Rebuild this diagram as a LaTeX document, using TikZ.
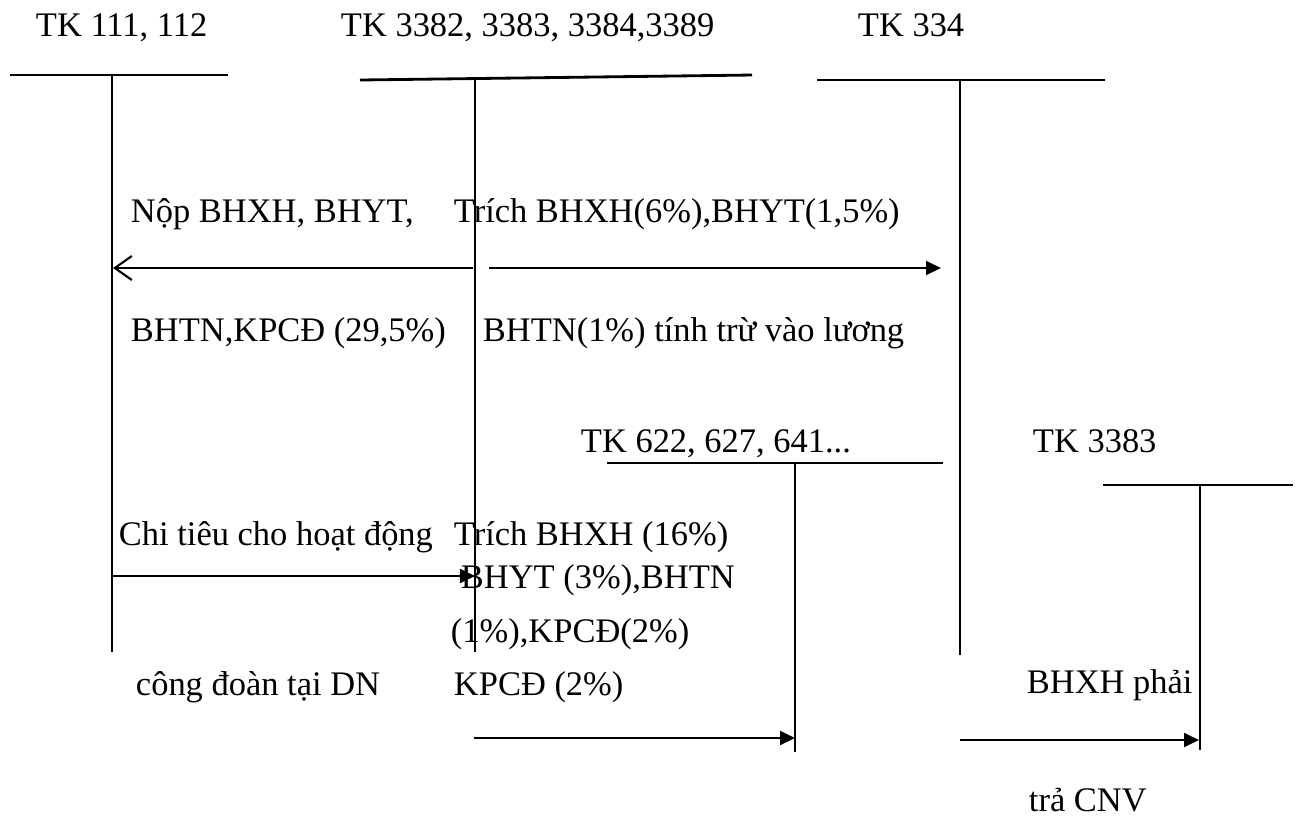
\documentclass[tikz,border=0pt]{standalone}
\usepackage{fontspec}
\setmainfont{Liberation Serif}
\usetikzlibrary{arrows.meta}

\begin{document}
\begin{tikzpicture}[x=0.01cm,y=-0.01cm,line width=0.55pt,
  font=\fontsize{9.8}{12}\selectfont,
  tline/.style={line width=0.8pt},
  lbl/.style={anchor=base west,inner sep=0pt},
  flow/.style={-{Triangle[length=0.15cm,width=0.14cm]}},
  back/.style={-{Straight Barb[length=0.17cm,width=0.24cm,line width=0.6pt]}}]
\useasboundingbox (0,0) rectangle (1300,820);
% accounts: top bar and middle stem
\coordinate (a1l) at (10,75);   \coordinate (a1r) at (228,75);
\coordinate (a1t) at (112,75);  \coordinate (a1b) at (112,652);
\coordinate (a2l) at (360,80);  \coordinate (a2r) at (752,75);
\coordinate (a2t) at (475,79);  \coordinate (a2b) at (475,652);
\coordinate (a3l) at (817,80);  \coordinate (a3r) at (1105,80);
\coordinate (a3t) at (960,80);  \coordinate (a3b) at (960,655);
\coordinate (a4l) at (607,463); \coordinate (a4r) at (943,463);
\coordinate (a4t) at (795,463); \coordinate (a4b) at (795,752);
\coordinate (a5l) at (1103,485);\coordinate (a5r) at (1293,485);
\coordinate (a5t) at (1200,485);\coordinate (a5b) at (1200,750);
\draw[tline] (a1l) -- (a1r);
\draw (a1t) -- (a1b);
\draw[tline] (a2l) -- (a2r);
\draw (a2t) -- (a2b);
\draw[tline] (a3l) -- (a3r);
\draw (a3t) -- (a3b);
\draw[tline] (a4l) -- (a4r);
\draw (a4t) -- (a4b);
\draw[tline] (a5l) -- (a5r);
\draw (a5t) -- (a5b);
% titles
\node[lbl] (t1) at (35,36) {TK 111, 112};
\node[lbl] (t2) at (340,36) {TK 3382, 3383, 3384,3389};
\node[lbl] (t3) at (857,36) {TK 334};
\node[lbl] (t4) at (580,452) {TK 622, 627, 641...};
\node[lbl] (t5) at (1032,452) {TK 3383};
% entries
\coordinate (p1) at (473,268); \coordinate (q1) at (113,268);
\coordinate (p2) at (489,268); \coordinate (q2) at (941,268);
\coordinate (p3) at (113,576); \coordinate (q3) at (475,576);
\coordinate (p4) at (474,738); \coordinate (q4) at (795,738);
\coordinate (p5) at (960,740); \coordinate (q5) at (1199,740);
\draw[back] (p1) -- (q1);
\draw[flow] (p2) -- (q2);
\draw[flow] (p3) -- (q3);
\draw[flow] (p4) -- (q4);
\draw[flow] (p5) -- (q5);
\node[lbl] (n1) at (130,222) {Nộp BHXH, BHYT,};
\node[lbl] (n2) at (130,341) {BHTN,KPCĐ (29,5\%)};
\node[lbl] (m1) at (453,222) {Trích BHXH(6\%),BHYT(1,5\%)};
\node[lbl] (m2) at (482,341) {BHTN(1\%) tính trừ vào lương};
\node[lbl] (c1) at (118,545) {Chi tiêu cho hoạt động};
\node[lbl] (c2) at (135,695) {công đoàn tại DN};
\node[lbl] (k1) at (453,545) {Trích BHXH (16\%)};
\node[lbl] (k2) at (460,588) {BHYT (3\%),BHTN};
\node[lbl] (k3) at (450,642) {(1\%),KPCĐ(2\%)};
\node[lbl] (k4) at (453,695) {KPCĐ (2\%)};
\node[lbl] (b1) at (1026,693) {BHXH phải};
\node[lbl] (b2) at (1028,811) {trả CNV};
\end{tikzpicture}
\end{document}
